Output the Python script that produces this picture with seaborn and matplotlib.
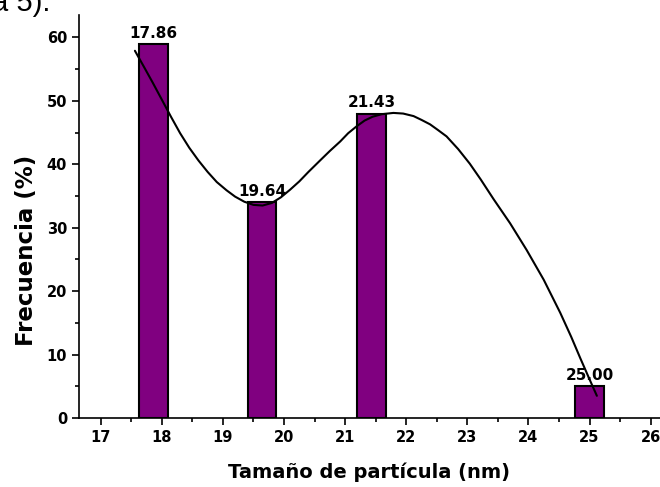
import numpy as np
import pandas as pd
import seaborn as sns
import matplotlib.pyplot as plt

# datos de las barras (tamaño de partícula vs frecuencia)
tamano = [17.86, 19.64, 21.43, 25.00]
frecuencia = [59, 34, 48, 5]
etiquetas = ["17.86", "19.64", "21.43", "25.00"]

# curva de ajuste
curva_x = [17.56, 17.70, 17.85, 18.00, 18.15, 18.30, 18.45, 18.60, 18.75, 18.90,
           19.06, 19.20, 19.35, 19.50, 19.65, 19.80, 19.95, 20.10, 20.25, 20.40,
           20.59, 20.75, 20.92, 21.05, 21.19, 21.32, 21.45, 21.60, 21.79, 21.95,
           22.12, 22.25, 22.39, 22.52, 22.66, 22.85, 23.04, 23.22, 23.43, 23.70,
           23.97, 24.25, 24.52, 24.70, 24.85, 25.00, 25.12]
curva_y = [57.9, 55.5, 52.9, 50.2, 47.5, 44.9, 42.6, 40.6, 38.8, 37.2,
           35.9, 34.9, 34.1, 33.6, 33.5, 33.9, 34.8, 36.0, 37.3, 38.8,
           40.6, 42.1, 43.6, 44.9, 46.0, 46.9, 47.5, 47.9, 48.1, 48.0,
           47.6, 47.0, 46.3, 45.4, 44.4, 42.4, 40.1, 37.6, 34.5, 30.7,
           26.5, 21.8, 16.6, 12.8, 9.4, 6.1, 3.5]

df = pd.DataFrame({"tamano": tamano, "frecuencia": frecuencia})
df_curva = pd.DataFrame({"x": curva_x, "y": curva_y})

sns.set_style("ticks")
plt.rcParams['font.family'] = ['DejaVu Sans']
plt.rcParams['font.weight'] = 'bold'
plt.rcParams['text.color'] = 'black'
plt.rcParams['axes.labelcolor'] = 'black'
plt.rcParams['xtick.color'] = 'black'
plt.rcParams['ytick.color'] = 'black'
plt.rcParams['axes.edgecolor'] = 'black'

fig = plt.figure(figsize=(6.6, 4.87), dpi=100)
ax = fig.add_axes([0.1197, 0.1417, 0.88, 0.827])

sns.barplot(data=df, x="tamano", y="frecuencia", native_scale=True, width=0.264,
            color="#800080", saturation=1, edgecolor="black", linewidth=1.5, ax=ax)
sns.lineplot(data=df_curva, x="x", y="y", color="black", linewidth=1.5, ax=ax)

for xv, yv, t in zip(tamano, frecuencia, etiquetas):
    ax.text(xv, yv + 0.5, t, ha="center", va="bottom", fontsize=11, fontweight="bold")

ax.set_xlim(16.645, 26.15)
ax.set_ylim(0, 63.5)
ax.set_xticks(range(17, 27))
ax.set_xticks(np.arange(17.5, 26.5, 1), minor=True)
ax.set_yticks(range(0, 61, 10))
ax.set_yticks(range(5, 61, 10), minor=True)
ax.tick_params(axis="both", which="major", length=5, width=1.2, labelsize=10.5, direction="out")
ax.tick_params(axis="both", which="minor", length=3, width=1.2, direction="out")
for lab in ax.get_xticklabels() + ax.get_yticklabels():
    lab.set_fontweight("bold")

for s in ["top", "right"]:
    ax.spines[s].set_visible(False)
for s in ["left", "bottom"]:
    ax.spines[s].set_linewidth(1.2)

ax.set_xlabel("Tamaño de partícula (nm)", fontsize=14, fontweight="bold", labelpad=13)
ax.set_ylabel("Frecuencia (%)", fontsize=16.5, fontweight="bold")
ax.yaxis.set_label_coords(-0.07, 0.415)

# texto del documento recortado arriba a la izquierda
fig.text(-0.012, 0.978, "a 5).", fontsize=21, fontweight="normal",
         family="Liberation Sans", va="baseline")

fig.savefig("out.png", dpi=100)
